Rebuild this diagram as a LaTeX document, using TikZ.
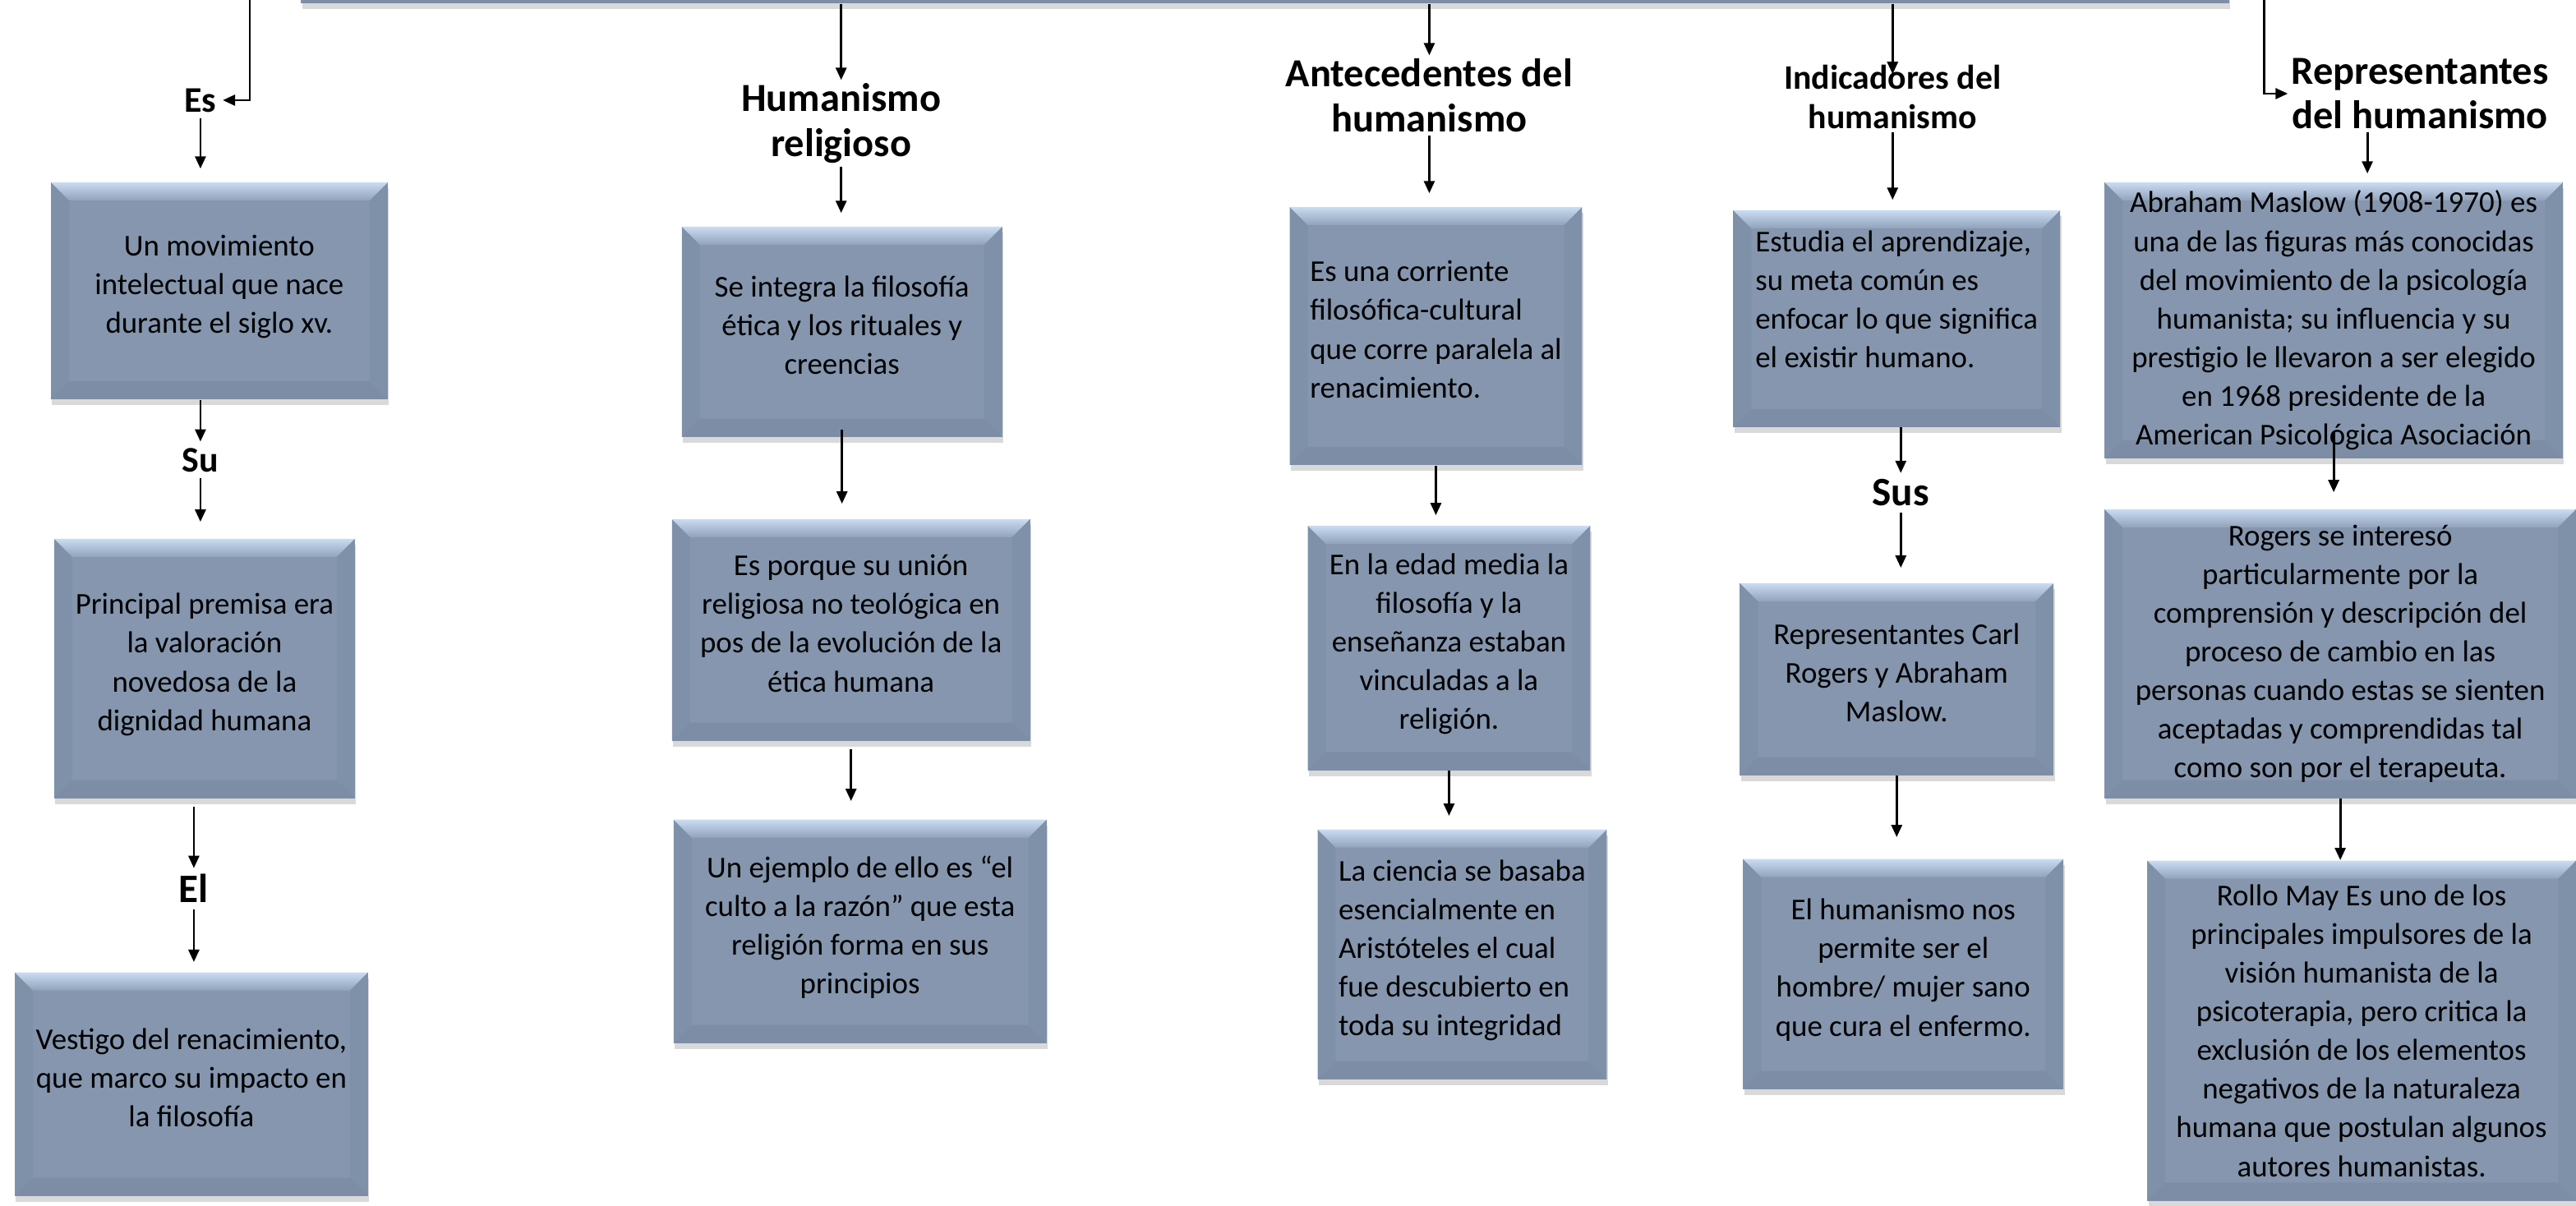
\documentclass[tikz,border=0pt]{standalone}
\usepackage{fontspec}
\setmainfont{Carlito}
\usetikzlibrary{arrows.meta,shadows,calc}

\definecolor{cajafondo}{HTML}{8596AE}
\definecolor{cajaclaro}{HTML}{C9DCF2}
\definecolor{cajamedio}{HTML}{91A2BA}
\definecolor{cajalado}{HTML}{7F90A9}
\definecolor{cajabajo}{HTML}{7D8DA6}
\def\bisel{0.22cm}

\tikzset{
  caja/.style = {fill=cajafondo, inner sep=0pt, align=center,
    font=\fontsize{10.5}{13.4}\selectfont,
    drop shadow={shadow xshift=0.4pt, shadow yshift=-2pt, opacity=0.3},
    path picture={
      \fill[cajalado] (path picture bounding box.north west) -- ([shift={(\bisel,-\bisel)}]path picture bounding box.north west)
        -- ([shift={(\bisel,\bisel)}]path picture bounding box.south west) -- (path picture bounding box.south west) -- cycle;
      \fill[cajalado] (path picture bounding box.north east) -- ([shift={(-\bisel,-\bisel)}]path picture bounding box.north east)
        -- ([shift={(-\bisel,\bisel)}]path picture bounding box.south east) -- (path picture bounding box.south east) -- cycle;
      \fill[cajabajo] (path picture bounding box.south west) -- ([shift={(\bisel,\bisel)}]path picture bounding box.south west)
        -- ([shift={(-\bisel,\bisel)}]path picture bounding box.south east) -- (path picture bounding box.south east) -- cycle;
      \shade[top color=cajaclaro, bottom color=cajamedio] (path picture bounding box.north west) -- (path picture bounding box.north east)
        -- ([shift={(-\bisel,-\bisel)}]path picture bounding box.north east) -- ([shift={(\bisel,-\bisel)}]path picture bounding box.north west) -- cycle;
    }},
  titulo/.style = {align=center, font=\fontsize{13.8}{15.5}\selectfont\bfseries, inner sep=1pt},
  enlace/.style = {font=\fontsize{12.5}{15}\selectfont\bfseries, inner sep=2pt},
  flecha/.style = {line width=0.8pt, -{Triangle[length=1.5mm,width=1.3mm]}},
}

\begin{document}
\begin{tikzpicture}[x=0.02cm, y=-0.02cm]
\useasboundingbox (0,0) rectangle (1568,734);

% barra de arriba
\node[caja, minimum width=23.48cm, minimum height=1.24cm] (top) at (770,-29) {};
\coordinate (c1) at (152,-5);
\coordinate (c5) at (1378,-5);

% primera columna
\node[enlace] (es) at (122,61) {Es};
\node[caja, minimum width=4.1cm, minimum height=2.64cm] (b1) at (133.5,177) {Un movimiento\\intelectual que nace\\durante el siglo xv.\\[-0.31cm]};
\node[enlace] (su) at (122,280) {Su};
\node[caja, minimum width=3.66cm, minimum height=3.16cm] (b2) at (124.5,407) {Principal premisa era\\la valoración\\novedosa de la\\dignidad humana\\[-0.31cm]};
\node[enlace, font=\fontsize{14}{16}\selectfont\bfseries] (el) at (118,541) {El};
\node[caja, minimum width=4.3cm, minimum height=2.72cm] (b3) at (116.5,660) {Vestigo del renacimiento,\\que marco su impacto en\\la filosofía\\[-0.31cm]};

% segunda columna
\node[titulo] (hr) at (512,75) {Humanismo\\religioso};
\node[caja, minimum width=3.9cm, minimum height=2.56cm] (b4) at (512.5,202) {Se integra la filosofía\\ética y los rituales y\\creencias\\[-0.31cm]};
\node[caja, minimum width=4.36cm, minimum height=2.7cm] (b5) at (518,383.5) {Es porque su unión\\religiosa no teológica en\\pos de la evolución de la\\ética humana\\[-0.31cm]};
\node[caja, minimum width=4.54cm, minimum height=2.72cm] (b6) at (523.5,567) {Un ejemplo de ello es “el\\culto a la razón” que esta\\religión forma en sus\\principios\\[-0.31cm]};

% tercera columna
\node[titulo] (ant) at (870,58) {Antecedentes del\\humanismo};
\node[caja, align=left, minimum width=3.56cm, minimum height=3.14cm] (b7) at (874,204.5) {Es una corriente\\filosófica-cultural\\que corre paralela al\\renacimiento.\\[-0.31cm]};
\node[caja, minimum width=3.44cm, minimum height=2.98cm] (b8) at (882,394.5) {En la edad media la\\filosofía y la\\enseñanza estaban\\vinculadas a la\\religión.\\[-0.31cm]};
\node[caja, align=left, minimum width=3.52cm, minimum height=3.04cm] (b9) at (890,581) {La ciencia se basaba\\esencialmente en\\Aristóteles el cual\\fue descubierto en\\toda su integridad\\[-0.31cm]};

% cuarta columna
\node[titulo, font=\fontsize{11.9}{13.5}\selectfont\bfseries] (ind) at (1152,59) {Indicadores del\\humanismo};
\node[caja, align=left, minimum width=3.98cm, minimum height=2.64cm] (b10) at (1154.5,194) {Estudia el aprendizaje,\\su meta común es\\enfocar lo que significa\\el existir humano.\\};
\node[enlace, font=\fontsize{14}{16}\selectfont\bfseries] (sus) at (1157,300) {Sus};
\node[caja, minimum width=3.82cm, minimum height=2.34cm] (b11) at (1154.5,413.5) {Representantes Carl\\Rogers y Abraham\\Maslow.\\[-0.31cm]};
\node[caja, minimum width=3.9cm, minimum height=2.8cm] (b12) at (1158.5,593) {El humanismo nos\\permite ser el\\hombre/ mujer sano\\que cura el enfermo.\\[-0.31cm]};

% quinta columna
\node[titulo] (rep) at (1473,57) {Representantes\\del humanismo};
\node[caja, minimum width=5.58cm, minimum height=3.36cm] (b13) at (1420.5,195) {Abraham Maslow (1908-1970) es\\una de las figuras más conocidas\\del movimiento de la psicología\\humanista; su influencia y su\\prestigio le llevaron a ser elegido\\en 1968 presidente de la\\American Psicológica Asociación};
\node[caja, minimum width=5.74cm, minimum height=3.52cm] (b14) at (1424.5,398) {Rogers se interesó\\particularmente por la\\comprensión y descripción del\\proceso de cambio en las\\personas cuando estas se sienten\\aceptadas y comprendidas tal\\como son por el terapeuta.};
\node[caja, minimum width=5.22cm, minimum height=4.14cm] (b15) at (1437.5,627.5) {Rollo May Es uno de los\\principales impulsores de la\\visión humanista de la\\psicoterapia, pero critica la\\exclusión de los elementos\\negativos de la naturaleza\\humana que postulan algunos\\autores humanistas.};

% flechas
\draw[flecha] (c1) |- (es.east);
\draw[flecha, shorten >=1.6mm] (es) -- (es |- b1.north);
\draw[flecha] (b1.south -| su) -- (su);
\draw[flecha, shorten >=2mm] (su) -- (su |- b2.north);
\draw[flecha, shorten <=1mm] (b2.south -| el) -- (el);
\draw[flecha, shorten >=1.2mm] (el) -- (el |- b3.north);

\draw[flecha] (top.south -| hr) -- (hr);
\draw[flecha, shorten >=1.6mm] (hr) -- (hr |- b4.north);
\draw[flecha, shorten <=-1mm, shorten >=1.8mm] (b4.south) -- (b4.south |- b5.north);
\draw[flecha, shorten <=1mm, shorten >=2.2mm] (b5.south) -- (b5.south |- b6.north);

\draw[flecha] (top.south -| ant) -- (ant);
\draw[flecha, shorten >=1.6mm] (ant) -- (ant |- b7.north);
\draw[flecha, shorten >=1.2mm] (b7.south) -- (b7.south |- b8.north);
\draw[flecha, shorten >=1.6mm] (b8.south) -- (b8.south |- b9.north);

\draw[flecha] (top.south -| ind) -- ([yshift=-0.15cm]ind.north);
\draw[flecha, shorten >=1.2mm] (ind) -- (ind |- b10.north);
\draw[flecha, shorten <=-0.1mm] (b10.south -| sus) -- (sus);
\draw[flecha, shorten >=1.8mm] (sus) -- (sus |- b11.north);
\draw[flecha, shorten >=2.6mm] (b11.south) -- (b11.south |- b12.north);

\draw[flecha] (c5) |- (rep.west);
\draw[flecha, shorten >=1mm] ([xshift=-0.64cm]rep.south) -- ([xshift=-0.64cm]rep.south |- b13.north);
\draw[flecha, shorten <=-3.4mm, shorten >=2mm] (b13.south) -- (b13.south |- b14.north);
\draw[flecha] (b14.south) -- (b14.south |- b15.north);
\end{tikzpicture}
\end{document}
